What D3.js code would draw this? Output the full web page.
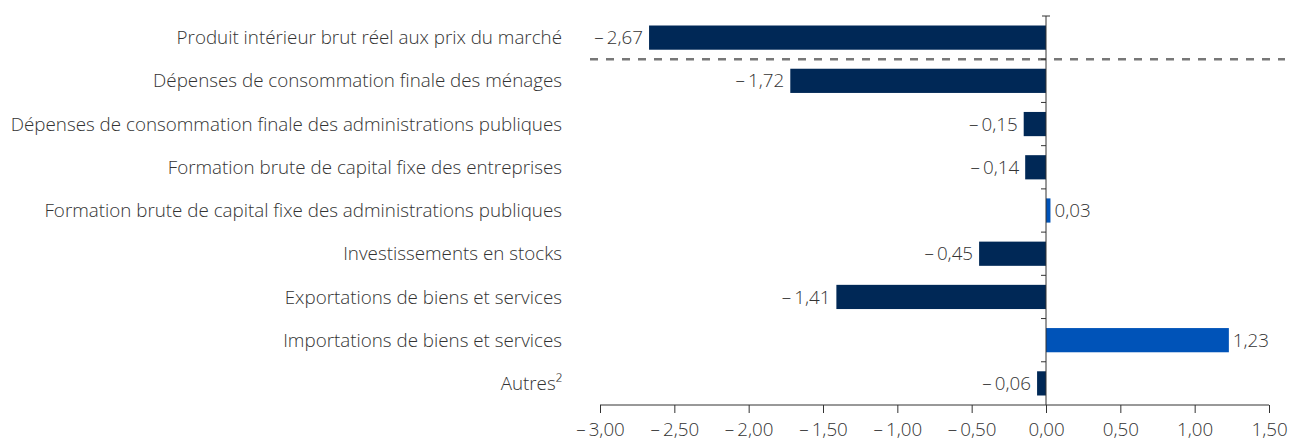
<!DOCTYPE html>
<html>
<head>
<meta charset="utf-8">
<script src="https://cdn.jsdelivr.net/npm/d3@7"></script>
<style>
	body { margin: 0; background: #fff; }
	text { font-family: "Open Sans", sans-serif; font-weight: 300; fill: #333; }
</style>
</head>
<body>
<svg id="chart"></svg>
<script>

var categories = [
	"Produit intérieur brut réel aux prix du marché",
	"Dépenses de consommation finale des ménages",
	"Dépenses de consommation finale des administrations publiques",
	"Formation brute de capital fixe des entreprises",
	"Formation brute de capital fixe des administrations publiques",
	"Investissements en stocks",
	"Exportations de biens et services",
	"Importations de biens et services",
	"Autres²"
];
var values = [-2.67, -1.72, -0.15, -0.14, 0.03, -0.45, -1.41, 1.23, -0.06];
var xTicks = [-3, -2.5, -2, -1.5, -1, -0.5, 0, 0.5, 1, 1.5];

var width = 1292,
	height = 442,
	margin = { top: 16, right: 23, bottom: 37, left: 600 },
	fontSize = "18.8px";

var svg = d3.select("#chart")
	.attr("width", width)
	.attr("height", height);

var x = d3.scaleLinear()
	.domain([-3, 1.5])
	.range([margin.left, width - margin.right]);

var y = d3.scaleBand()
	.domain(categories)
	.range([margin.top, height - margin.bottom])
	.paddingInner(0.44)
	.paddingOuter(0.22);

function fmt(v, digits) {
	var s = Math.abs(v).toFixed(digits).replace(".", ",");
	return v < 0 ? "\u2013\u2009" + s : s;
}

// bars
svg.append("g")
	.selectAll("rect")
	.data(values)
	.join("rect")
	.attr("x", d => x(Math.min(0, d)))
	.attr("y", (d, i) => y(categories[i]))
	.attr("width", d => Math.abs(x(d) - x(0)))
	.attr("height", y.bandwidth())
	.attr("fill", d => d < 0 ? "#002856" : "#0053b8");

// value labels
svg.append("g")
	.selectAll("text")
	.data(values)
	.join("text")
	.attr("x", d => d < 0 ? x(d) - 6 : x(d) + 4)
	.attr("y", (d, i) => y(categories[i]) + y.bandwidth() / 2)
	.attr("dy", "0.35em")
	.attr("text-anchor", d => d < 0 ? "end" : "start")
	.style("font-size", fontSize)
	.text(d => fmt(d, 2));

// category labels
svg.append("g")
	.selectAll("text")
	.data(categories)
	.join("text")
	.attr("x", 562)
	.attr("y", d => y(d) + y.bandwidth() / 2)
	.attr("dy", "0.35em")
	.attr("text-anchor", "end")
	.style("font-size", fontSize)
	.text(d => d);

// dashed separator under the GDP line
var sepY = (y(categories[0]) + y.bandwidth() + y(categories[1])) / 2;
svg.append("line")
	.attr("x1", 590)
	.attr("x2", 1285)
	.attr("y1", sepY)
	.attr("y2", sepY)
	.attr("stroke", "#777")
	.attr("stroke-width", 2.5)
	.attr("stroke-dasharray", "8,8");

// x axis
var axisY = height - margin.bottom;
var xAxis = svg.append("g")
	.attr("transform", "translate(0," + axisY + ")")
	.call(d3.axisBottom(x).tickValues(xTicks).tickSize(8).tickFormat(d => fmt(d, 2)));
xAxis.select(".domain").attr("stroke", "#333").attr("d", "M" + x(-3) + ",0H" + x(1.5));
xAxis.selectAll(".tick line").attr("stroke", "#333");
xAxis.selectAll(".tick text")
	.attr("y", 18)
	.style("font-size", fontSize)
	.style("font-family", "'Open Sans', sans-serif")
	.style("font-weight", 300)
	.attr("fill", "#333");

// zero line with category ticks
var step = y.step();
var bounds = categories.map(d => y(d) - (step - y.bandwidth()) / 2);
svg.append("line")
	.attr("x1", x(0)).attr("x2", x(0))
	.attr("y1", margin.top).attr("y2", axisY)
	.attr("stroke", "#333");
svg.append("g")
	.selectAll("line")
	.data(bounds)
	.join("line")
	.attr("x1", (d, i) => i === 0 ? x(0) - 4 : x(0) - 5)
	.attr("x2", (d, i) => i === 0 ? x(0) + 4 : x(0))
	.attr("y1", (d, i) => i === 0 ? margin.top : d)
	.attr("y2", (d, i) => i === 0 ? margin.top : d)
	.attr("stroke", "#333");

</script>
</body>
</html>
